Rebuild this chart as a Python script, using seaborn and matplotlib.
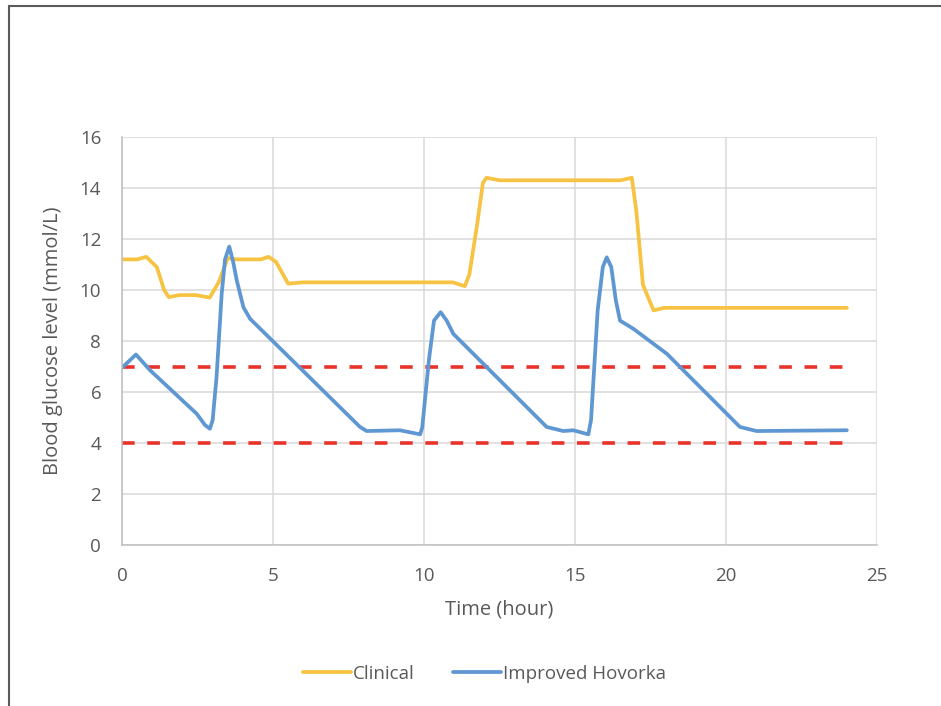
import pandas as pd
import matplotlib.pyplot as plt
import seaborn as sns
from matplotlib.patches import Rectangle

# values
clinical_t = [0, 0.5, 0.8, 1.15, 1.4, 1.55, 1.9, 2.45, 2.9, 3.2, 3.5, 3.8, 4.6, 4.85, 5.1, 5.5, 6.0,
              10.95, 11.35, 11.5, 11.75, 11.95, 12.07, 12.5, 16.5, 16.88, 17.03, 17.25, 17.6, 17.95, 24.0]
clinical_v = [11.2, 11.2, 11.3, 10.9, 9.98, 9.72, 9.8, 9.8, 9.7, 10.3, 11.25, 11.2, 11.2, 11.3, 11.1, 10.25, 10.3,
              10.3, 10.15, 10.6, 12.5, 14.2, 14.4, 14.3, 14.3, 14.4, 13.1, 10.2, 9.2, 9.3, 9.3]

hovorka_t = [0, 0.46, 0.93, 2.47, 2.75, 2.91, 3.0, 3.13, 3.3, 3.41, 3.55, 3.68, 3.8, 4.02, 4.24,
             7.88, 8.1, 9.2, 9.87, 9.94, 10.16, 10.33, 10.55, 10.75, 10.97, 14.06, 14.61, 14.94,
             15.44, 15.53, 15.75, 15.92, 16.05, 16.2, 16.35, 16.49, 16.93, 18.04, 20.46, 21.01, 24.0]
hovorka_v = [6.95, 7.47, 6.85, 5.15, 4.7, 4.56, 4.9, 6.6, 9.85, 11.2, 11.7, 11.1, 10.37, 9.32, 8.87,
             4.63, 4.47, 4.5, 4.34, 4.6, 7.24, 8.8, 9.13, 8.8, 8.28, 4.63, 4.47, 4.5,
             4.34, 4.9, 9.2, 10.9, 11.28, 10.9, 9.6, 8.8, 8.48, 7.5, 4.63, 4.47, 4.5]

limit_t = [0, 24]
upper_limit = [7, 7]
lower_limit = [4, 4]

df_clin = pd.DataFrame({"Time": clinical_t, "Glucose": clinical_v, "Series": "Clinical"})
df_hov = pd.DataFrame({"Time": hovorka_t, "Glucose": hovorka_v, "Series": "Improved Hovorka"})
df = pd.concat([df_clin, df_hov], ignore_index=True)

sns.set_style("white")
plt.rcParams['font.family'] = ['Open Sans', 'DejaVu Sans']

fig = plt.figure(figsize=(9.41, 7.06), dpi=100)
ax = fig.add_axes([0.1297, 0.228, 0.8023, 0.578])

# grey frame around the picture
fig.patches.append(Rectangle((9 / 941, -0.05), 1.1, 1.05 - 6 / 706, transform=fig.transFigure,
                             fill=False, edgecolor="#5a5a5a", linewidth=1.5, zorder=0))

sns.lineplot(data=pd.DataFrame({"Time": limit_t, "Glucose": upper_limit}), x="Time", y="Glucose",
             color="#e8332a", linewidth=2.6, linestyle=(0, (3.5, 3.5)), ax=ax, legend=False)
sns.lineplot(data=pd.DataFrame({"Time": limit_t, "Glucose": lower_limit}), x="Time", y="Glucose",
             color="#e8332a", linewidth=2.6, linestyle=(0, (3.5, 3.5)), ax=ax, legend=False)
sns.lineplot(data=df, x="Time", y="Glucose", hue="Series",
             palette={"Clinical": "#f6c343", "Improved Hovorka": "#5f97d2"},
             linewidth=2.7, sort=False, estimator=None, ax=ax)

ax.set_xlim(0, 25)
ax.set_ylim(0, 16)
ax.set_xticks(range(0, 26, 5))
ax.set_yticks(range(0, 17, 2))
ax.grid(True, color="#d9d9d9", linewidth=1.1)
ax.set_axisbelow(True)
for side in ["top", "right"]:
    ax.spines[side].set_visible(False)
for side in ["left", "bottom"]:
    ax.spines[side].set_color("#bfbfbf")
    ax.spines[side].set_linewidth(1.1)
ax.tick_params(axis="both", length=0, labelsize=13.5, labelcolor="#595959")
ax.tick_params(axis="x", pad=16)
ax.tick_params(axis="y", pad=15)
ax.set_xlabel("Time (hour)", fontsize=14.5, color="#595959", labelpad=10)
ax.set_ylabel("Blood glucose level (mmol/L)", fontsize=14.5, color="#595959", labelpad=12)

handles, labels = ax.get_legend_handles_labels()
ax.legend(handles, labels, loc="center", bbox_to_anchor=(0.48, -0.316), ncol=2, frameon=False,
          fontsize=13.5, labelcolor="#595959", handlelength=2.6, handletextpad=0.1, columnspacing=2.0)

plt.savefig("out.png", dpi=100)
